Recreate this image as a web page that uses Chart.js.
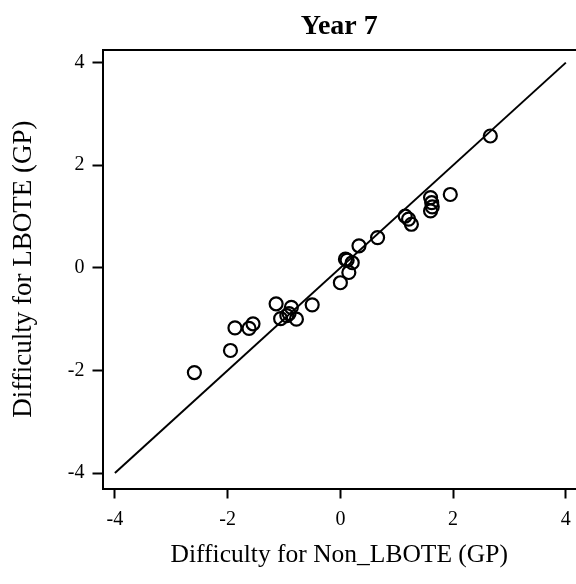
<!DOCTYPE html>
<html>
<head>
<meta charset="utf-8">
<script src="https://cdn.jsdelivr.net/npm/chart.js@4/dist/chart.umd.min.js"></script>
<style>
html,body{margin:0;padding:0;background:#fff;}
#wrap{width:576px;height:584px;}
</style>
</head>
<body>
<div id="wrap"><canvas id="c" width="576" height="584"></canvas></div>
<script>
const chartTitle = "Year 7";
const xTitle = "Difficulty for Non_LBOTE (GP)";
const yTitle = "Difficulty for LBOTE (GP)";
const tickValues = [-4, -2, 0, 2, 4];
const nonLboteX = [-2.59, -1.95, -1.87, -1.62, -1.55, -1.14, -1.06, -0.95, -0.91, -0.87, -0.78, -0.50, 0.00, 0.09, 0.12, 0.21, 0.15, 0.33, 0.66, 1.15, 1.21, 1.26, 1.60, 1.62, 1.63, 1.60, 1.95, 2.66];
const lboteY    = [-2.04, -1.61, -1.17, -1.18, -1.09, -0.70, -0.99, -0.93, -0.89, -0.77, -1.00, -0.72, -0.29, 0.17, 0.15, 0.10, -0.09, 0.43, 0.59, 1.01, 0.95, 0.85, 1.37, 1.27, 1.19, 1.11, 1.43, 2.57];
const identityX = [-4, 4];
const identityY = [-4, 4];

const FONT = "'Liberation Serif', 'Times New Roman', serif";
const pts = nonLboteX.map((x, i) => ({x: x, y: lboteY[i]}));
const linePts = identityX.map((x, i) => ({x: x, y: identityY[i]}));
const setTicks = s => { s.ticks = tickValues.map(v => ({value: v})); };
const noPad = s => { s.paddingLeft = 0; s.paddingRight = 0; s.paddingTop = 0; s.paddingBottom = 0; };

new Chart(document.getElementById('c'), {
  type: 'scatter',
  data: {
    datasets: [
      {
        type: 'line',
        data: linePts,
        borderColor: '#000',
        borderWidth: 2,
        pointRadius: 0,
        fill: false,
        order: 2
      },
      {
        data: pts,
        pointStyle: 'circle',
        pointRadius: 6.5,
        pointBorderWidth: 2.2,
        borderColor: '#000',
        backgroundColor: 'rgba(0,0,0,0)',
        order: 1
      }
    ]
  },
  options: {
    responsive: false,
    animation: false,
    layout: {padding: 0, autoPadding: false},
    plugins: {
      legend: {display: false},
      tooltip: {enabled: false},
      title: {
        display: true,
        text: chartTitle,
        fullSize: false,
        color: '#000',
        font: {family: FONT, size: 28, weight: 'bold', lineHeight: 1.2},
        padding: {top: 10.2, bottom: 6}
      }
    },
    scales: {
      x: {
        type: 'linear',
        position: 'bottom',
        min: -4.22,
        max: 4.18,
        afterBuildTicks: setTicks,
        afterFit: s => { s.height = 95.5; noPad(s); },
        grid: {drawOnChartArea: false, drawTicks: true, tickLength: 10, tickWidth: 2, tickColor: '#000'},
        border: {display: true, color: '#000', width: 2},
        ticks: {color: '#000', font: {family: FONT, size: 20}, padding: 9, maxRotation: 0},
        title: {display: true, text: xTitle, color: '#000', font: {family: FONT, size: 25.5, lineHeight: 1.2}, padding: {top: 0, bottom: 13}}
      },
      xTop: {
        type: 'linear',
        position: 'top',
        min: -4.22,
        max: 4.18,
        afterFit: s => { s.height = 0; noPad(s); },
        grid: {display: false, drawTicks: false},
        border: {display: true, color: '#000', width: 2},
        ticks: {display: false}
      },
      y: {
        type: 'linear',
        position: 'left',
        min: -4.30,
        max: 4.25,
        afterBuildTicks: setTicks,
        afterFit: s => { s.width = 102.5; noPad(s); },
        grid: {drawOnChartArea: false, drawTicks: true, tickLength: 10, tickWidth: 2, tickColor: '#000'},
        border: {display: true, color: '#000', width: 2},
        ticks: {color: '#000', font: {family: FONT, size: 20}, padding: 8},
        title: {display: true, text: yTitle, color: '#000', font: {family: FONT, size: 27, lineHeight: 1.2}, padding: {top: 8, bottom: 0}}
      }
    }
  }
});
</script>
</body>
</html>
